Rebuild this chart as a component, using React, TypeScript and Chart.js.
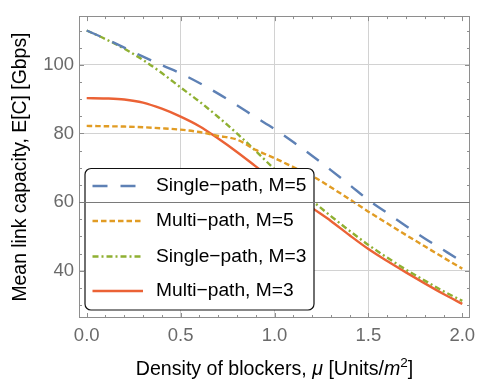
import React, { useEffect, useRef } from "react";
import { Chart, registerables } from "chart.js";

Chart.register(...registerables);

// ---- data ----
const densities = [0, 0.1, 0.2, 0.3, 0.4, 0.5, 0.6, 0.7, 0.8, 0.9, 1.0, 1.1, 1.2, 1.3, 1.4, 1.5, 1.6, 1.7, 1.8, 1.9, 2.0];
const singlePathM5 = [110, 107.6, 105.0, 102.4, 99.9, 97.5, 94.7, 91.6, 88.2, 84.7, 81.3, 77.5, 73.5, 69.3, 65.0, 60.6, 56.8, 53.0, 49.4, 46.0, 42.6];
const multiPathM5 = [82.2, 82.1, 82.0, 81.8, 81.5, 81.1, 80.4, 79.3, 78.2, 75.2, 72.8, 70.2, 67.6, 64.3, 60.8, 57.2, 53.8, 50.4, 47.1, 43.8, 40.6];
const singlePathM3 = [110, 107.5, 104.7, 101.4, 97.6, 93.4, 89.3, 84.8, 80.0, 74.9, 69.6, 65.0, 60.4, 55.9, 51.6, 47.5, 43.8, 40.3, 37.1, 34.0, 31.2];
const multiPathM3 = [90.3, 90.2, 89.9, 89.0, 87.2, 84.9, 82.1, 78.5, 74.6, 70.4, 66.2, 62.2, 58.3, 54.5, 50.3, 46.3, 42.8, 39.5, 36.3, 33.2, 30.3];

const seriesLabels = ["Single\u2212path, M=5", "Multi\u2212path, M=5", "Single\u2212path, M=3", "Multi\u2212path, M=3"];

const xTickValues = [0, 0.5, 1.0, 1.5, 2.0];
const xGridValues = [0.5, 1.0, 1.5];
const xMinorTickValues = [0.1, 0.2, 0.3, 0.4, 0.6, 0.7, 0.8, 0.9, 1.1, 1.2, 1.3, 1.4, 1.6, 1.7, 1.8, 1.9];
const yTickValues = [40, 60, 80, 100];
const yMinorTickValues = [30, 35, 45, 50, 55, 65, 70, 75, 85, 90, 95, 105, 110];
const yHighlightValue = 60;

const yTitle = "Mean link capacity, E[C] [Gbps]";

const FONT = "'Liberation Sans', Arial, Helvetica, sans-serif";
const COLORS = ["#5E81B5", "#E19C24", "#8FB032", "#EB6235"];
const DASHES: number[][] = [[15, 13], [5.5, 3], [6, 3, 2, 3], []];

const framePlugin = {
  id: "mmaFrame",
  afterDraw(chart: any) {
    const ctx = chart.ctx as CanvasRenderingContext2D;
    const { left, right, top, bottom } = chart.chartArea;
    const xs = chart.scales.x;
    const ys = chart.scales.y;
    ctx.save();
    // frame
    ctx.strokeStyle = "#8e8e8e";
    ctx.lineWidth = 1;
    ctx.strokeRect(Math.round(left) + 0.5, Math.round(top) + 0.5, Math.round(right - left) - 1, Math.round(bottom - top) - 1);
    // ticks
    const drawX = (v: number, len: number) => {
      const px = Math.round(xs.getPixelForValue(v)) + 0.5;
      ctx.beginPath();
      ctx.moveTo(px, bottom);
      ctx.lineTo(px, bottom - len);
      ctx.moveTo(px, top);
      ctx.lineTo(px, top + len);
      ctx.stroke();
    };
    const drawY = (v: number, len: number) => {
      const py = Math.round(ys.getPixelForValue(v)) + 0.5;
      ctx.beginPath();
      ctx.moveTo(left, py);
      ctx.lineTo(left + len, py);
      ctx.moveTo(right, py);
      ctx.lineTo(right - len, py);
      ctx.stroke();
    };
    xTickValues.forEach((v) => drawX(v, 5));
    xMinorTickValues.forEach((v) => drawX(v, 3));
    yTickValues.forEach((v) => drawY(v, 5));
    yMinorTickValues.forEach((v) => drawY(v, 3));

    // legend box
    const lx = left + 6, ly = 168.5, lw = 229, lh = 141.5, r = 6;
    ctx.beginPath();
    ctx.moveTo(lx + r, ly);
    ctx.lineTo(lx + lw - r, ly);
    ctx.arcTo(lx + lw, ly, lx + lw, ly + r, r);
    ctx.lineTo(lx + lw, ly + lh - r);
    ctx.arcTo(lx + lw, ly + lh, lx + lw - r, ly + lh, r);
    ctx.lineTo(lx + r, ly + lh);
    ctx.arcTo(lx, ly + lh, lx, ly + lh - r, r);
    ctx.lineTo(lx, ly + r);
    ctx.arcTo(lx, ly, lx + r, ly, r);
    ctx.closePath();
    ctx.fillStyle = "#ffffff";
    ctx.fill();
    ctx.strokeStyle = "#111111";
    ctx.lineWidth = 1.2;
    ctx.stroke();

    const rows = [186, 221, 256.5, 291];
    chart.data.datasets.forEach((ds: any, i: number) => {
      const y = rows[i];
      ctx.save();
      ctx.strokeStyle = ds.borderColor;
      ctx.lineWidth = ds.borderWidth;
      ctx.setLineDash(ds.borderDash || []);
      ctx.lineCap = "butt";
      ctx.beginPath();
      ctx.moveTo(lx + 7.5, y);
      ctx.lineTo(lx + 58, y);
      ctx.stroke();
      ctx.restore();
      ctx.fillStyle = "#000";
      ctx.font = `19.2px ${FONT}`;
      ctx.textBaseline = "middle";
      ctx.textAlign = "left";
      ctx.fillText(ds.label, lx + 71, y);
    });

    // highlighted grid line at 60
    const p60 = Math.round(ys.getPixelForValue(yHighlightValue)) + 0.5;
    ctx.strokeStyle = "#7a7a7a";
    ctx.lineWidth = 1;
    ctx.beginPath();
    ctx.moveTo(left, p60);
    ctx.lineTo(right, p60);
    ctx.stroke();

    // x-axis title with italic parts
    const size = 19.6;
    const parts: { t: string; f: string; dy: number }[] = [
      { t: "Density of blockers, ", f: `${size}px ${FONT}`, dy: 0 },
      { t: "\u03bc", f: `italic ${size}px ${FONT}`, dy: 0 },
      { t: " [Units/", f: `${size}px ${FONT}`, dy: 0 },
      { t: "m", f: `italic ${size}px ${FONT}`, dy: 0 },
      { t: "2", f: `13.5px ${FONT}`, dy: -8 },
      { t: "]", f: `${size}px ${FONT}`, dy: 0 },
    ];
    let total = 0;
    const widths = parts.map((p) => {
      ctx.font = p.f;
      const w = ctx.measureText(p.t).width;
      total += w;
      return w;
    });
    let cx = (left + right) / 2 - total / 2;
    const baseY = 375;
    ctx.fillStyle = "#000";
    ctx.textAlign = "left";
    ctx.textBaseline = "alphabetic";
    parts.forEach((p, i) => {
      ctx.font = p.f;
      ctx.fillText(p.t, cx, baseY + p.dy);
      cx += widths[i];
    });
    ctx.restore();
  },
};

export default function App() {
  const ref = useRef<HTMLCanvasElement>(null);
  useEffect(() => {
    const canvas = ref.current;
    if (!canvas) return;
    const series = [singlePathM5, multiPathM5, singlePathM3, multiPathM3];
    const datasets = series.map((vals, i) => ({
      label: seriesLabels[i],
      data: densities.map((x, j) => ({ x, y: vals[j] })),
      borderColor: COLORS[i],
      backgroundColor: COLORS[i],
      borderWidth: 2.4,
      borderDash: DASHES[i],
      borderCapStyle: "butt",
      pointRadius: 0,
      cubicInterpolationMode: "monotone",
      fill: false,
    }));
    const chart = new Chart(canvas, {
      type: "line",
      data: { datasets } as any,
      options: {
        animation: false,
        responsive: false,
        devicePixelRatio: 1,
        layout: { padding: { left: 0, top: 5, right: 17, bottom: 0 } },
        plugins: { legend: { display: false }, tooltip: { enabled: false } },
        scales: {
          x: {
            type: "linear",
            min: -0.041,
            max: 2.041,
            afterBuildTicks: (s: any) => {
              s.ticks = xTickValues.map((v) => ({ value: v }));
            },
            afterFit: (s: any) => {
              s.height = 63;
            },
            border: { display: false },
            grid: {
              drawTicks: false,
              lineWidth: 1,
              color: (c: any) => (c.tick && xGridValues.includes(c.tick.value) ? "#d2d2d2" : "rgba(0,0,0,0)"),
            },
            ticks: {
              padding: 7,
              color: "#6a6a6a",
              font: { family: FONT, size: 18.5 },
              maxRotation: 0,
              autoSkip: false,
              callback: (v: any) => Number(v).toFixed(1),
            },
          },
          y: {
            type: "linear",
            min: 26.2,
            max: 114.2,
            afterBuildTicks: (s: any) => {
              s.ticks = yTickValues.map((v) => ({ value: v }));
            },
            afterFit: (s: any) => {
              s.width = 79;
            },
            border: { display: false },
            grid: { drawTicks: false, lineWidth: 1, color: "#d2d2d2" },
            ticks: {
              padding: 5,
              color: "#6a6a6a",
              font: { family: FONT, size: 18.5 },
              callback: (v: any) => String(v),
            },
            title: {
              display: true,
              text: yTitle,
              color: "#000",
              font: { family: FONT, size: 19.4 },
              padding: { top: 9, bottom: 0 },
            },
          },
        },
      } as any,
      plugins: [framePlugin],
    });
    return () => chart.destroy();
  }, []);
  return (
    <div style={{ position: "absolute", left: 0, top: 0, width: 487, height: 381, background: "#fff" }}>
      <canvas ref={ref} width={487} height={381} style={{ display: "block" }} />
    </div>
  );
}
